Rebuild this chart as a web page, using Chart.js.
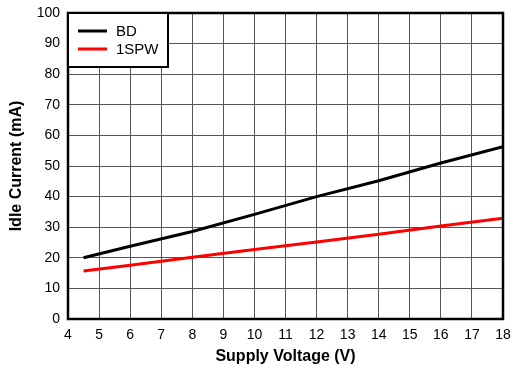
<!DOCTYPE html>
<html>
<head>
<meta charset="utf-8">
<script src="https://cdn.jsdelivr.net/npm/chart.js@4/dist/chart.umd.min.js"></script>
<style>
  html, body { margin: 0; padding: 0; background: #fff; }
  #wrap { width: 514px; height: 368px; }
</style>
</head>
<body>
<div id="wrap"><canvas id="c" width="514" height="368"></canvas></div>
<script>
// Idle current vs supply voltage
const voltages = [4.5, 6, 8, 10, 12, 14, 16, 18];
const bdCurrent = [20, 23.8, 28.6, 34.2, 40, 45.2, 51, 56.3];
const spwCurrent = [15.7, 17.6, 20.2, 22.7, 25.2, 27.7, 30.4, 32.9];
const seriesNames = ['BD', '1SPW'];
const seriesColors = ['#000000', '#ff0000'];

const FONT = 'Liberation Sans, Arial, Helvetica, sans-serif';

const toPts = ys => voltages.map((v, i) => ({ x: v, y: ys[i] }));

// frame around the plot + boxed legend in the top-left corner
const framePlugin = {
  id: 'frame',
  afterDatasetsDraw(chart) {
    const { ctx, chartArea: a } = chart;
    ctx.save();
    ctx.strokeStyle = '#000';
    ctx.lineWidth = 2.5;
    ctx.strokeRect(a.left, a.top, a.right - a.left, a.bottom - a.top);

    // legend
    const lx = a.left, ly = a.top, lw = 100, lh = 54;
    ctx.fillStyle = '#fff';
    ctx.fillRect(lx, ly, lw, lh);
    ctx.lineWidth = 2;
    ctx.strokeRect(lx, ly, lw, lh);
    ctx.font = '15px ' + FONT;
    ctx.textBaseline = 'middle';
    chart.data.datasets.forEach((ds, i) => {
      const y = ly + 18 + i * 18;
      ctx.strokeStyle = ds.borderColor;
      ctx.lineWidth = 3;
      ctx.beginPath();
      ctx.moveTo(lx + 10, y);
      ctx.lineTo(lx + 39, y);
      ctx.stroke();
      ctx.fillStyle = '#000';
      ctx.fillText(ds.label, lx + 48, y + 1);
    });
    ctx.restore();
  }
};

new Chart(document.getElementById('c'), {
  type: 'line',
  data: {
    datasets: seriesNames.map((name, i) => ({
      label: name,
      data: toPts(i === 0 ? bdCurrent : spwCurrent),
      borderColor: seriesColors[i],
      borderWidth: 3,
      pointRadius: 0,
      tension: 0,
      fill: false,
    })),
  },
  options: {
    responsive: false,
    animation: false,
    layout: { padding: { top: 13, right: 11, left: 0, bottom: 0 } },
    plugins: { legend: { display: false }, tooltip: { enabled: false } },
    scales: {
      x: {
        type: 'linear',
        min: 4, max: 18,
        ticks: { stepSize: 1, color: '#000', font: { family: FONT, size: 14 }, padding: 8 },
        grid: { color: '#555', lineWidth: 1, drawTicks: false },
        border: { display: false },
        title: { display: true, text: 'Supply Voltage (V)', color: '#000', font: { family: FONT, size: 16, weight: 'bold' }, padding: { top: 0, bottom: 2 } },
        afterFit(s) { s.height = 49; s.paddingLeft = 0; s.paddingRight = 0; },
      },
      y: {
        min: 0, max: 100,
        ticks: { stepSize: 10, color: '#000', font: { family: FONT, size: 14 }, padding: 8 },
        grid: { color: '#555', lineWidth: 1, drawTicks: false },
        border: { display: false },
        title: { display: true, text: 'Idle Current (mA)', color: '#000', font: { family: FONT, size: 16, weight: 'bold' }, padding: { top: 7, bottom: 0 } },
        afterFit(s) { s.width = 68; s.paddingTop = 0; s.paddingBottom = 0; },
      },
    },
  },
  plugins: [framePlugin],
});
</script>
</body>
</html>
